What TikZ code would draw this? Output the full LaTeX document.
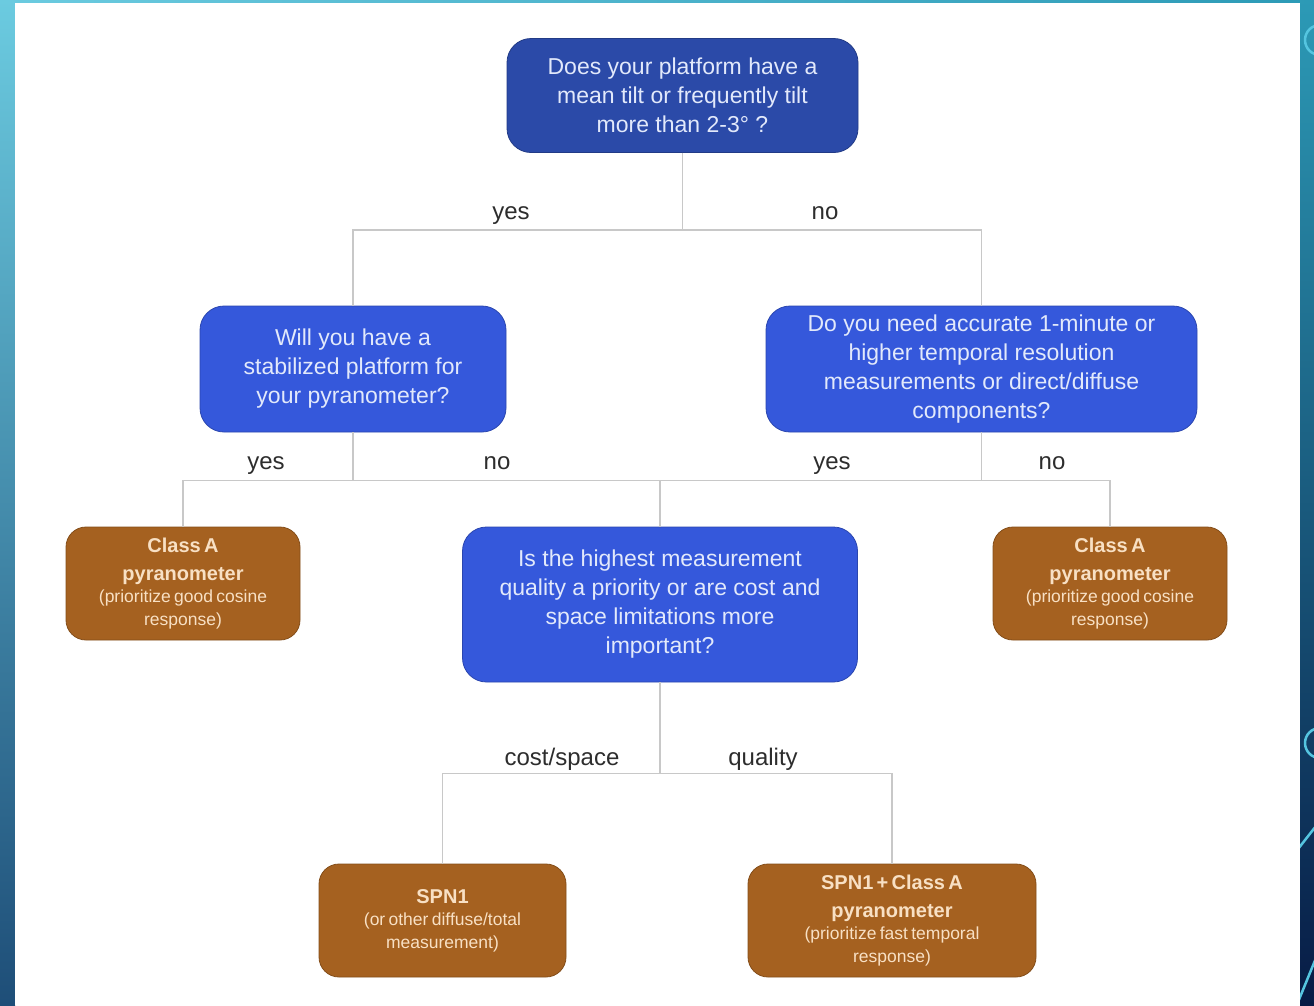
\documentclass[tikz,border=0pt]{standalone}
\usepackage{fontspec}
\setmainfont{Liberation Sans}
\definecolor{topblue}{RGB}{43,74,168}
\definecolor{qblue}{RGB}{53,88,219}
\definecolor{brownbox}{RGB}{165,97,32}
\definecolor{qtext}{RGB}{226,233,251}
\definecolor{btext}{RGB}{248,224,196}
\definecolor{connc}{RGB}{200,200,200}
\definecolor{lblc}{RGB}{45,45,45}
\definecolor{bgA}{RGB}{107,203,224}
\definecolor{bgB}{RGB}{82,173,202}
\definecolor{bgC}{RGB}{30,78,120}
\definecolor{bgD}{RGB}{44,154,182}
\definecolor{bgE}{RGB}{27,90,132}
\definecolor{bgF}{RGB}{7,27,69}
\definecolor{decor}{RGB}{85,197,224}
\tikzset{
  qbox/.style={rounded corners=24pt, fill=qblue, draw=qblue!80!black, line width=0.8pt,
    text=qtext, align=center, inner sep=0pt, font=\fontsize{23}{29}\selectfont},
  qtop/.style={qbox, fill=topblue, draw=topblue!80!black},
  obox/.style={rounded corners=20pt, fill=brownbox, draw=brownbox!80!black, line width=0.8pt,
    text=btext, align=center, inner sep=0pt},
  conn/.style={draw=connc, line width=1.3pt},
  lbl/.style={text=lblc, font=\fontsize{24}{28}\selectfont, inner sep=0pt, anchor=base}
}
\newcommand{\outc}[2]{{\fontsize{20}{27.5}\selectfont\bfseries #1\par}{\fontsize{17.5}{22.5}\selectfont #2\par}}
\begin{document}
\begin{tikzpicture}[x=1pt,y=-1pt]
\useasboundingbox (0,0) rectangle (1314,1005);
% slide background
\shade[top color=bgA, middle color=bgB, bottom color=bgC] (0,0) rectangle (15,1005);
\shade[top color=bgD, middle color=bgE, bottom color=bgF] (1300,0) rectangle (1314,1005);
\shade[left color=bgA, right color=bgD] (0,0) rectangle (1314,3);
\fill[white] (15,3) rectangle (1300,1005);
\begin{scope}
  \clip (1300,0) rectangle (1314,1005);
  \draw[decor, line width=2.5pt] (1320,40) circle (15);
  \draw[decor, line width=2.5pt] (1320,743) circle (15);
  \draw[decor, line width=2.5pt] (1298,849) -- (1316,826);
  \draw[decor, line width=2.5pt] (1298,1002) -- (1316,958);
\end{scope}
% nodes
\node[qtop, minimum width=351pt, minimum height=114pt] (q1) at (682.5,95.5)
  {Does your platform have a\\mean tilt or frequently tilt\\more than 2-3° ?};
\node[qbox, minimum width=306pt, minimum height=126pt] (q2) at (353,369)
  {Will you have a\\stabilized platform for\\your pyranometer?};
\node[qbox, minimum width=431pt, minimum height=126pt] (q3) at (981.5,369)
  {Do you need accurate 1-minute or\\higher temporal resolution\\measurements or direct/diffuse\\components?};
\node[qbox, minimum width=395pt, minimum height=155pt] (q4) at (660,604.5)
  {Is the highest measurement\\quality a priority or are cost and\\space limitations more\\important?};
\node[obox, minimum width=234pt, minimum height=113pt, text width=226pt] (a1) at (183,583.5)
  {\outc{Class A\\pyranometer}{(prioritize good cosine\\response)}};
\node[obox, minimum width=234pt, minimum height=113pt, text width=226pt] (a2) at (1110,583.5)
  {\outc{Class A\\pyranometer}{(prioritize good cosine\\response)}};
\node[obox, minimum width=247pt, minimum height=113pt, text width=239pt] (s1) at (442.5,920.5)
  {\outc{SPN1}{(or other diffuse/total\\measurement)}};
\node[obox, minimum width=288pt, minimum height=113pt, text width=280pt] (s2) at (892,920.5)
  {\outc{SPN1 + Class A\\pyranometer}{(prioritize fast temporal\\response)}};
% connectors
\draw[conn] (q1.south) -- ++(0,77) -| (q2.north);
\draw[conn] (q1.south) -- ++(0,77) -| (q3.north);
\draw[conn] (q2.south) -- ++(0,48) -| (a1.north);
\draw[conn] (q2.south) -- ++(0,48) -| (q4.north);
\draw[conn] (q3.south) -- ++(0,48) -| (q4.north);
\draw[conn] (q3.south) -- ++(0,48) -| (a2.north);
\draw[conn] (q4.south) -- ++(0,91) -| (s1.north);
\draw[conn] (q4.south) -- ++(0,91) -| (s2.north);
% labels
\node[lbl] (l1) at (511,219) {yes};
\node[lbl] (l2) at (825,219) {no};
\node[lbl] (l3) at (266,469) {yes};
\node[lbl] (l4) at (497,469) {no};
\node[lbl] (l5) at (832,469) {yes};
\node[lbl] (l6) at (1052,469) {no};
\node[lbl] (l7) at (562,765) {cost/space};
\node[lbl] (l8) at (763,765) {quality};
\end{tikzpicture}
\end{document}
